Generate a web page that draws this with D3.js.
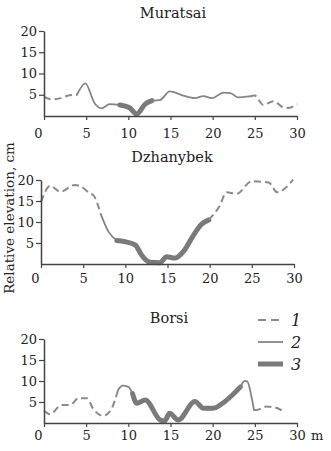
<!DOCTYPE html>
<html>
<head>
<meta charset="utf-8">
<script src="https://cdn.jsdelivr.net/npm/d3@7"></script>
<style>
    body { margin: 0; background: #fff; }
    svg { display: block; font-family: "DejaVu Serif", serif; }
</style>
</head>
<body>
<svg id="chart" width="331" height="451"></svg>
<script>
// distance along profile (m) and relative elevation (cm)
// kinds: one char per segment between consecutive points (1 dashed, 2 thin, 3 thick)
const muratsaiDist = [0, 1, 2, 3, 3.9, 4.9, 6, 6.8, 7.8, 9, 10.1, 11, 12, 12.8, 13.8, 14.9, 16.5, 17.9, 18.9, 19.9, 21.3, 22.1, 23, 24.4, 25, 26, 27.2, 28.4, 29, 30];
const muratsaiElev = [4.5, 3.9, 4.2, 4.9, 5.0, 7.7, 3.0, 1.8, 2.8, 2.6, 2.0, 0.5, 2.8, 3.6, 3.8, 5.8, 4.8, 4.2, 4.7, 4.2, 5.5, 5.4, 4.4, 4.6, 4.8, 2.6, 3.5, 2.0, 1.9, 2.8];
const muratsaiKinds = "11112222233332222222222111111";

const dzhanybekDist = [0, 1.1, 2.3, 4.0, 4.8, 5.8, 6.2, 7.1, 8.0, 9.0, 10.2, 11.2, 11.9, 12.9, 14.1, 14.9, 15.9, 16.9, 18.0, 19.0, 19.9, 21.2, 22.0, 23.2, 25, 27, 28, 29.9];
const dzhanybekElev = [14.8, 18.6, 17.2, 18.8, 18.4, 16.8, 16.4, 11.8, 7.7, 5.6, 5.2, 4.5, 2.2, 0.4, 0.3, 1.7, 1.4, 3.0, 6.6, 9.4, 10.5, 13.9, 17.1, 16.7, 19.7, 19.4, 17.1, 20.1];
const dzhanybekKinds = "111111122333333333331111111";

const borsiDist = [0, 0.7, 2.1, 3.1, 4.1, 5.1, 5.8, 7.0, 7.8, 8.8, 9.3, 10.0, 10.5, 11.0, 12.0, 13.8, 14.3, 14.9, 15.9, 17.9, 18.9, 20.1, 20.9, 23.3, 23.8, 24.1, 24.6, 24.9, 25.2, 26.4, 27.4, 28.6];
const borsiElev = [2.9, 2.1, 4.3, 4.3, 5.9, 5.9, 3.5, 1.7, 2.7, 7.9, 8.9, 8.6, 7.0, 4.7, 5.5, 0.7, 0.5, 2.3, 0.7, 5.1, 3.5, 3.5, 4.3, 8.6, 10.0, 9.9, 6.3, 3.1, 3.1, 3.9, 3.7, 2.5];
const borsiKinds = "1111111112223333333333322221111";

const xTicks = [0, 5, 10, 15, 20, 25, 30];
const yTicks = [5, 10, 15, 20];
const legendLabels = ["1", "2", "3"];

const lineStyle = {
    1: { width: 2, dash: "7,4", color: "#8a8a8a", cap: "butt" },
    2: { width: 1.8, dash: null, color: "#858585", cap: "round" },
    3: { width: 5, dash: null, color: "#7a7a7a", cap: "round" }
};

const panels = [
    { title: "Muratsai", dist: muratsaiDist, elev: muratsaiElev, kinds: muratsaiKinds,
      left: 44, right: 297, top: 31, bottom: 116, titleX: 173, titleY: 18, labelPad: 9 },
    { title: "Dzhanybek", dist: dzhanybekDist, elev: dzhanybekElev, kinds: dzhanybekKinds,
      left: 41, right: 294, top: 180, bottom: 264, titleX: 172, titleY: 162, labelPad: 6 },
    { title: "Borsi", dist: borsiDist, elev: borsiElev, kinds: borsiKinds,
      left: 44, right: 297, top: 339, bottom: 423, titleX: 169, titleY: 323, labelPad: 4 }
];

const svg = d3.select("#chart");

// split a profile into runs of the same line kind, sharing end points
function segments(p) {
    const out = [];
    let cur = null;
    for (let i = 0; i < p.kinds.length; i++) {
        const k = +p.kinds[i];
        if (!cur || cur.kind !== k) {
            cur = { kind: k, pts: [[p.dist[i], p.elev[i]]] };
            out.push(cur);
        }
        cur.pts.push([p.dist[i + 1], p.elev[i + 1]]);
    }
    return out;
}

panels.forEach((p, pi) => {
    const x = d3.scaleLinear().domain([0, 30]).range([p.left, p.right]);
    const y = d3.scaleLinear().domain([0, 20]).range([p.bottom, p.top]);
    const g = svg.append("g");

    g.append("text")
        .attr("x", p.titleX)
        .attr("y", p.titleY)
        .attr("text-anchor", "middle")
        .attr("font-size", 14.5)
        .attr("fill", "#222")
        .text(p.title);

    const line = d3.line()
        .x(d => x(d[0]))
        .y(d => y(d[1]))
        .curve(d3.curveMonotoneX);

    g.append("g").selectAll("path")
        .data(segments(p))
        .join("path")
        .attr("d", d => line(d.pts))
        .attr("fill", "none")
        .attr("stroke", d => lineStyle[d.kind].color)
        .attr("stroke-width", d => lineStyle[d.kind].width)
        .attr("stroke-dasharray", d => lineStyle[d.kind].dash)
        .attr("stroke-linecap", d => lineStyle[d.kind].cap)
        .attr("stroke-linejoin", "round");

    const yAxis = g.append("g")
        .attr("transform", `translate(${p.left},0)`)
        .call(d3.axisLeft(y).tickValues(yTicks).tickSize(5).tickSizeOuter(0).tickPadding(2));

    const xAxis = g.append("g")
        .attr("transform", `translate(0,${p.bottom})`)
        .call(d3.axisBottom(x).tickValues(xTicks).tickSize(4).tickSizeOuter(0).tickPadding(p.labelPad));

    [yAxis, xAxis].forEach(a => {
        a.attr("font-family", null).attr("font-size", 13);
        a.select(".domain").attr("stroke", "#444").attr("stroke-width", 1.5);
        a.selectAll(".tick line").attr("stroke", "#444").attr("stroke-width", 1.2);
        a.selectAll(".tick text").attr("fill", "#222");
    });
    xAxis.selectAll(".tick text").filter(d => d === 0).attr("dx", -6);

    if (pi === 2) {
        g.append("text")
            .attr("x", x(30) + 14)
            .attr("y", p.bottom + p.labelPad + 4 + 9.3)
            .attr("font-size", 13)
            .attr("fill", "#222")
            .text("m");
    }
});

svg.append("text")
    .attr("transform", "translate(14,218) rotate(-90)")
    .attr("text-anchor", "middle")
    .attr("font-size", 13.5)
    .attr("fill", "#222")
    .text("Relative elevation, cm");

// legend
const legend = svg.append("g").attr("transform", "translate(258,320)");
legendLabels.forEach((lab, i) => {
    const s = lineStyle[i + 1];
    legend.append("line")
        .attr("x1", 0).attr("x2", 25)
        .attr("y1", i * 22).attr("y2", i * 22)
        .attr("stroke", s.color)
        .attr("stroke-width", s.width)
        .attr("stroke-dasharray", i === 0 ? "8,5" : null);
    legend.append("text")
        .attr("x", 33)
        .attr("y", i * 22 + 6)
        .attr("font-size", 16)
        .attr("font-style", "italic")
        .attr("fill", "#222")
        .text(lab);
});
</script>
</body>
</html>
